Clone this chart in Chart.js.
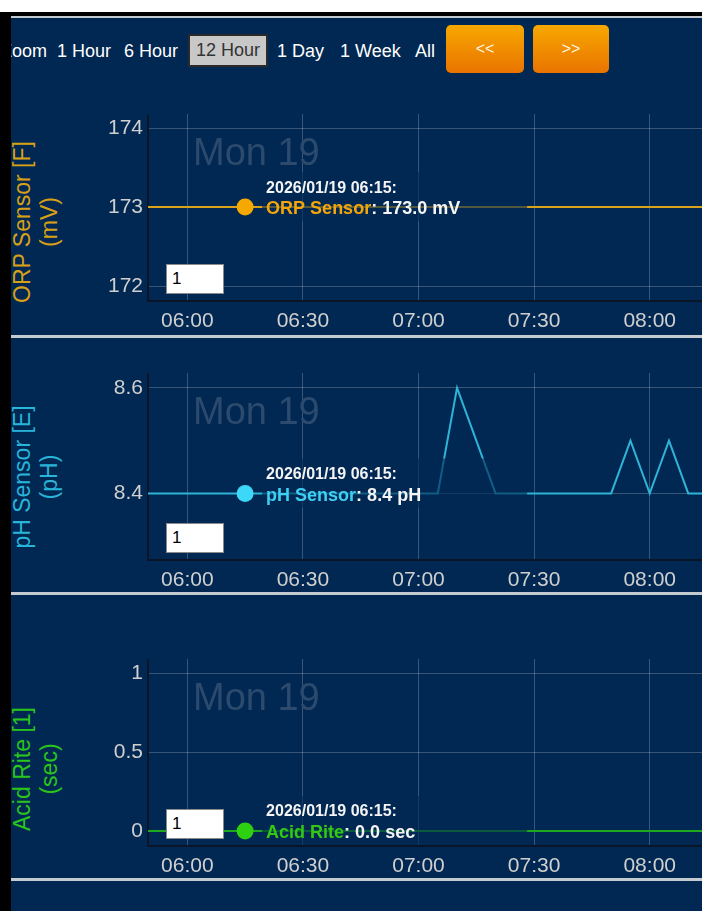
<!DOCTYPE html>
<html>
<head>
<meta charset="utf-8">
<script src="https://cdn.jsdelivr.net/npm/chart.js@4/dist/chart.umd.min.js"></script>
<style>
  html, body { margin: 0; padding: 0; width: 702px; height: 911px; overflow: hidden; background: #fff; }
  body { position: relative; font-family: 'Liberation Sans', Arial, sans-serif; }
  .abs { position: absolute; }
  #bg { left: 0; top: 0; width: 702px; height: 911px; background: #002852; }
  .sep { left: 11px; width: 691px; height: 3px; background: #c5c9d0; }
  .nav { top: 41px; font-size: 18px; line-height: 20px; color: #fff; white-space: nowrap; }
  #sel { left: 188px; top: 34px; width: 76px; height: 29px; border: 2px solid #2a2a2a; background: #c8c8c8;
         color: #333; font-size: 18px; line-height: 29px; text-align: center; }
  .btn { top: 25px; height: 48px; border-radius: 5px; background: linear-gradient(#f7a800, #e97300);
         color: #fff6e0; font-size: 16px; line-height: 48px; text-align: center; }
  .ytitle { width: 300px; height: 54px; left: -114.5px; font-size: 23px; line-height: 27px;
            text-align: center; transform: rotate(-90deg); white-space: nowrap; }
  .inp { left: 166px; width: 51px; height: 28px; background: #fff; border: 1px solid #8a8a8a;
         font-size: 17px; line-height: 28px; padding-left: 5px; color: #000; }
  canvas { position: absolute; left: 60px; }
  .cover { z-index: 5; }
</style>
</head>
<body>
<div id="bg" class="abs"></div>

<div class="abs nav" style="left:1px">Zoom</div>
<div class="abs nav" style="left:57px">1 Hour</div>
<div class="abs nav" style="left:124px">6 Hour</div>
<div id="sel" class="abs">12 Hour</div>
<div class="abs nav" style="left:277px">1 Day</div>
<div class="abs nav" style="left:340px">1 Week</div>
<div class="abs nav" style="left:415px">All</div>
<div class="abs btn" style="left:446px;width:78px">&lt;&lt;</div>
<div class="abs btn" style="left:533px;width:76px">&gt;&gt;</div>

<div class="abs ytitle" style="top:195px;color:#d9a016">ORP Sensor [F]<br>(mV)</div>
<div class="abs ytitle" style="top:450px;color:#29b5d9">pH Sensor [E]<br>(pH)</div>
<div class="abs ytitle" style="top:742px;color:#2bc41a">Acid Rite [1]<br>(sec)</div>

<canvas id="orp" width="660" height="221" style="top:114px"></canvas>
<canvas id="ph" width="660" height="221" style="top:373px"></canvas>
<canvas id="acid" width="660" height="221" style="top:659px"></canvas>

<div class="abs inp" style="top:264px">1</div>
<div class="abs inp" style="top:523px">1</div>
<div class="abs inp" style="top:809px">1</div>

<div class="abs sep" style="top:335px"></div>
<div class="abs sep" style="top:592px"></div>
<div class="abs sep" style="top:878px"></div>

<div class="abs cover" style="left:0;top:0;width:702px;height:12px;background:#fff"></div>
<div class="abs cover" style="left:0;top:12px;width:702px;height:4px;background:#000"></div>
<div class="abs cover" style="left:11px;top:16px;width:691px;height:2px;background:#c5c9d0"></div>
<div class="abs cover" style="left:0;top:12px;width:11px;height:899px;background:#000"></div>

<script>
// samples every 5 minutes
const times = ['05:45','05:50','05:55','06:00','06:05','06:10','06:15','06:20','06:25','06:30','06:35',
  '06:40','06:45','06:50','06:55','07:00','07:05','07:10','07:15','07:20','07:25','07:30','07:35',
  '07:40','07:45','07:50','07:55','08:00','08:05','08:10','08:15','08:20'];

const orpValues = [173.0,173.0,173.0,173.0,173.0,173.0,173.0,173.0,173.0,173.0,173.0,
  173.0,173.0,173.0,173.0,173.0,173.0,173.0,173.0,173.0,173.0,173.0,173.0,
  173.0,173.0,173.0,173.0,173.0,173.0,173.0,173.0,173.0];

const phValues = [8.4,8.4,8.4,8.4,8.4,8.4,8.4,8.4,8.4,8.4,8.4,
  8.4,8.4,8.4,8.4,8.4,8.4,8.6,8.5,8.4,8.4,8.4,8.4,
  8.4,8.4,8.4,8.5,8.4,8.5,8.4,8.4,8.4];

const acidValues = [0,0,0,0,0,0,0,0,0,0,0,
  0,0,0,0,0,0,0,0,0,0,0,0,
  0,0,0,0,0,0,0,0,0];

const xTickLabels = ['06:00','06:30','07:00','07:30','08:00'];
const orpTicks = [172, 173, 174];
const phTicks = [8.4, 8.6];
const acidTicks = [0, 0.5, 1];

const dayLabel = 'Mon 19';
const hoverDate = '2026/01/19';
const hoverTime = '06:15';

const FONT = "'Liberation Sans', Arial, sans-serif";
Chart.defaults.font.family = FONT;

function toMin(t) {
  const p = t.split(':');
  return parseInt(p[0]) * 60 + parseInt(p[1]);
}

const hoverIdx = times.indexOf(hoverTime);

const overlay = {
  id: 'overlay',
  beforeDatasetsDraw(chart) {
    const a = chart.chartArea;
    const ctx = chart.ctx;
    ctx.save();
    ctx.font = '38px ' + FONT;
    ctx.fillStyle = '#2b4a6d';
    ctx.fillText(dayLabel, a.left + 45, a.top + 51);
    ctx.restore();
  },
  afterDatasetsDraw(chart, args, opts) {
    const a = chart.chartArea;
    const ctx = chart.ctx;
    const pt = chart.getDatasetMeta(0).data[hoverIdx];
    const px = pt.x, py = pt.y;
    ctx.save();
    // translucent box behind the label
    const top = Math.max(a.top, py - 35);
    const bottom = Math.min(a.bottom, py + 14);
    ctx.fillStyle = 'rgba(0,40,82,0.62)';
    ctx.fillRect(px + 17, top, 265, bottom - top);

    const tx = px + 21;
    ctx.font = 'bold 16px ' + FONT;
    ctx.fillStyle = '#f4f4f4';
    ctx.fillText(hoverDate + ' ' + hoverTime + ':', tx, py - 14.5);
    ctx.font = 'bold 18px ' + FONT;
    ctx.fillStyle = opts.color;
    ctx.fillText(opts.name, tx, py + 7.3);
    const w = ctx.measureText(opts.name).width;
    ctx.fillStyle = '#f4f4f4';
    const v = chart.data.datasets[0].data[hoverIdx].y;
    ctx.fillText(': ' + v.toFixed(1) + ' ' + opts.unit, tx + w, py + 7.3);
    ctx.restore();
  }
};

function makeChart(id, values, ticks, yMin, yMax, name, unit, lineColor, dotColor, labelColor) {
  new Chart(document.getElementById(id), {
    type: 'line',
    data: {
      datasets: [{
        data: times.map((t, i) => ({ x: toMin(t), y: values[i] })),
        borderColor: lineColor,
        borderWidth: 2,
        tension: 0,
        pointRadius: ctx => ctx.index === hoverIdx ? 8.5 : 0,
        pointBackgroundColor: dotColor,
        pointBorderWidth: 0
      }]
    },
    options: {
      responsive: false,
      animation: false,
      events: [],
      layout: { padding: 0 },
      plugins: {
        legend: { display: false },
        tooltip: { enabled: false },
        overlay: { name: name, unit: unit, color: labelColor }
      },
      scales: {
        x: {
          type: 'linear',
          bounds: 'data',
          min: 349.8,
          max: 498.24,
          afterBuildTicks: s => { s.ticks = xTickLabels.map(l => ({ value: toMin(l) })); },
          afterFit: s => { s.height = 34; s.paddingLeft = 0; s.paddingRight = 0; },
          grid: { color: 'rgba(255,255,255,0.22)', lineWidth: 1, drawTicks: false },
          border: { display: true, color: '#0a1628', width: 2 },
          ticks: {
            color: '#cfcfcf',
            font: { size: 21 },
            padding: 8,
            maxRotation: 0,
            autoSkip: false,
            callback: (v, i) => xTickLabels[i]
          }
        },
        y: {
          type: 'linear',
          bounds: 'data',
          min: yMin,
          max: yMax,
          afterBuildTicks: s => { s.ticks = ticks.map(v => ({ value: v })); },
          afterFit: s => { s.width = 88; s.paddingTop = 0; s.paddingBottom = 0; },
          grid: { color: 'rgba(255,255,255,0.22)', lineWidth: 1, drawTicks: false },
          border: { display: true, color: '#0a1628', width: 2 },
          ticks: {
            color: '#cfcfcf',
            font: { size: 21 },
            padding: 5,
            autoSkip: false,
            callback: (v, i) => String(ticks[i])
          }
        }
      }
    },
    plugins: [overlay]
  });
}

makeChart('orp', orpValues, orpTicks, 171.81, 174.18, 'ORP Sensor', 'mV', '#d9a21b', '#f5a900', '#f2a60c');
makeChart('ph', phValues, phTicks, 8.274, 8.628, 'pH Sensor', 'pH', '#2fb4d8', '#3dd8f8', '#3fcff2');
makeChart('acid', acidValues, acidTicks, -0.095, 1.089, 'Acid Rite', 'sec', '#1ea81e', '#2ed10f', '#33c814');
</script>
</body>
</html>
